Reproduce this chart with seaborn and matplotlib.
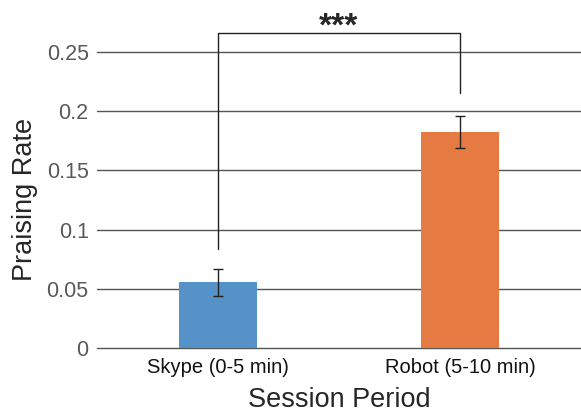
import pandas as pd
import matplotlib
matplotlib.use("Agg")
import matplotlib.pyplot as plt
import seaborn as sns

# values
periods = ["Skype (0-5 min)", "Robot (5-10 min)"]
rates = [0.0557, 0.1824]
errors = [0.0113, 0.0137]
bar_colors = ["#5492c7", "#e57a42"]
sig_label = "***"
sig_bottoms = [0.084, 0.215]
sig_top = 0.2657

df = pd.DataFrame({"Session Period": periods, "Praising Rate": rates})

sns.set_style("white")
plt.rcParams["font.family"] = ["Liberation Sans", "DejaVu Sans"]

fig = plt.figure(figsize=(5.81, 4.15), dpi=100)
ax = fig.add_axes([0.167, 0.161, 0.833, 0.815])

sns.barplot(data=df, x="Session Period", y="Praising Rate", hue="Session Period",
            palette=bar_colors, saturation=1, width=0.32, linewidth=0,
            legend=False, ax=ax, zorder=3)
ax.errorbar(range(len(periods)), rates, yerr=errors, fmt="none",
            ecolor="#222222", elinewidth=1, capsize=3.5, capthick=1, zorder=4)

# significance bracket
ax.plot([0, 0, 1, 1], [sig_bottoms[0], sig_top, sig_top, sig_bottoms[1]],
        color="#222222", lw=1, zorder=4, clip_on=False)
ax.text(0.5, sig_top - 0.0075, sig_label, ha="center", va="bottom",
        fontsize=24, fontweight="bold")

ax.set_xlim(-0.5, 1.5)
ax.set_ylim(0, 0.2855)
ax.set_yticks([0, 0.05, 0.1, 0.15, 0.2, 0.25])
ax.set_yticklabels(["0", "0.05", "0.1", "0.15", "0.2", "0.25"])
ax.yaxis.grid(True, color="#555555", lw=1)
for gl in ax.yaxis.get_gridlines():
    gl.set_clip_on(False)
ax.set_axisbelow(True)
for s in ax.spines.values():
    s.set_visible(False)
ax.tick_params(axis="y", length=0, pad=6, labelsize=15.5, labelcolor="#595959")
ax.tick_params(axis="x", length=0, pad=7, labelsize=14.5, labelcolor="#111111")
ax.set_xlabel("Session Period", fontsize=19.5, labelpad=7)
ax.set_ylabel("Praising Rate", fontsize=19.5)
ax.yaxis.set_label_coords(-0.122, 0.44)

fig.savefig("out.png", dpi=100)
